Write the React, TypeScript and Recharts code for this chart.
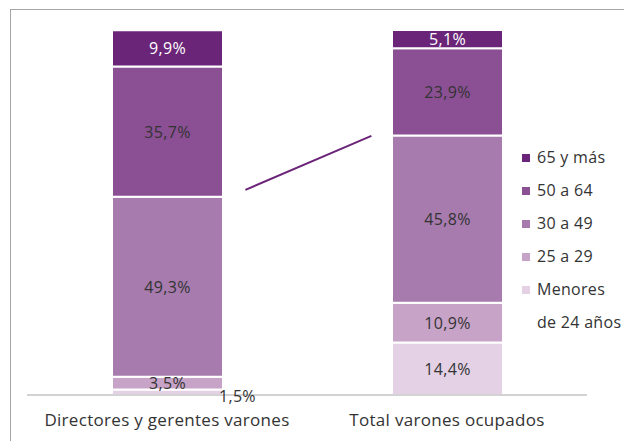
import { ComposedChart, Bar, Scatter, XAxis, YAxis, LabelList, Legend } from 'recharts';

const categories = ['Directores y gerentes varones', 'Total varones ocupados'];
const menores24 = [1.5, 14.4];
const de25a29 = [3.5, 10.9];
const de30a49 = [49.3, 45.8];
const de50a64 = [35.7, 23.9];
const mas65 = [9.9, 5.1];

// connector line drawn between the two bars (x in category units, y in %)
const connectorX = [0.78, 1.23];
const connectorY = [56.2, 71.0];

const series = [
    { key: 'menores', name: 'Menores\nde 24 años', values: menores24, color: '#E4D1E5', text: '#333333' },
    { key: 'd25', name: '25 a 29', values: de25a29, color: '#C8A3C8', text: '#333333' },
    { key: 'd30', name: '30 a 49', values: de30a49, color: '#A77BAE', text: '#333333' },
    { key: 'd50', name: '50 a 64', values: de50a64, color: '#8B5093', text: '#333333' },
    { key: 'm65', name: '65 y más', values: mas65, color: '#6B2578', text: '#FFFFFF' },
];

const data = categories.map((cat, i) => {
    const row: Record<string, any> = { cat };
    series.forEach(s => { row[s.key] = s.values[i]; });
    return row;
});

const connector = connectorX.map((x, i) => ({ x, y: connectorY[i] }));

const FONT = '"Open Sans", sans-serif';
const SPACING = 0.3;

const fmt = (v: number) => v.toFixed(1).replace('.', ',') + '%';

const makeLabel = (color: string, outsideFirst = false) => (props: any) => {
    const { x, y, width, height, value, index } = props;
    if (outsideFirst && index === 0) {
        return (
            <text x={x + width - 4} y={y + height + 1} fill="#333333" fontSize={16} fontFamily={FONT}
                letterSpacing={SPACING} textAnchor="start" dominantBaseline="central">
                {fmt(value)}
            </text>
        );
    }
    return (
        <text x={x + width / 2} y={y + height / 2} fill={color} fontSize={16} fontFamily={FONT}
            letterSpacing={SPACING} textAnchor="middle" dominantBaseline="central">
            {fmt(value)}
        </text>
    );
};

function LegendBox() {
    const items = [...series].reverse();
    return (
        <div style={{ fontFamily: FONT, fontSize: 16, color: '#333333', letterSpacing: SPACING, width: 120 }}>
            {items.map(s => (
                <div key={s.key} style={{ display: 'flex', alignItems: 'flex-start', lineHeight: '33px', whiteSpace: 'pre-line' }}>
                    <span style={{ width: 8, height: 8, background: s.color, marginTop: 13, marginRight: 7, flexShrink: 0 }} />
                    <span>{s.name}</span>
                </div>
            ))}
        </div>
    );
}

export default function App() {
    return (
        <div style={{ position: 'relative', width: 624, height: 433, overflow: 'hidden' }}>
            <div style={{ position: 'absolute', left: 2, top: 1, width: 700, height: 500, border: '1px solid #A6A6A6' }} />
            <div style={{ position: 'absolute', left: 0, top: 0 }}>
                <ComposedChart width={624} height={433} data={data}
                    margin={{ top: 22, right: 45, left: 19, bottom: 15 }}>
                    <XAxis xAxisId={0} type="number" dataKey="x" domain={[0, 2]} ticks={[0, 1, 2]}
                        height={1} tick={false} tickSize={5}
                        axisLine={{ stroke: '#A6A6A6' }} tickLine={{ stroke: '#A6A6A6' }} />
                    <XAxis xAxisId={1} dataKey="cat" height={30} axisLine={false} tickLine={false}
                        tickMargin={12} tick={{ fontSize: 17, fill: '#333333', fontFamily: FONT, letterSpacing: SPACING }} />
                    <YAxis yAxisId="val" hide domain={[0, 100]} allowDataOverflow />
                    <YAxis yAxisId="num" hide dataKey="y" domain={[0, 100]} allowDataOverflow />
                    {series.map((s, i) => (
                        <Bar key={s.key} xAxisId={1} yAxisId="val" dataKey={s.key} stackId="a"
                            fill={s.color} stroke="#FFFFFF" strokeWidth={2} barSize={111} isAnimationActive={false}>
                            <LabelList dataKey={s.key} content={makeLabel(s.text, i === 0)} />
                        </Bar>
                    ))}
                    <Scatter xAxisId={0} yAxisId="num" data={connector} dataKey="y"
                        line={{ stroke: '#6B2578', strokeWidth: 2 }} shape={() => <g />}
                        legendType="none" isAnimationActive={false} />
                    <Legend layout="horizontal" verticalAlign="top" align="left" content={() => <LegendBox />}
                        wrapperStyle={{ position: 'absolute', left: 514, top: 133, width: 0, height: 0, overflow: 'visible' }} />
                </ComposedChart>
            </div>
        </div>
    );
}
